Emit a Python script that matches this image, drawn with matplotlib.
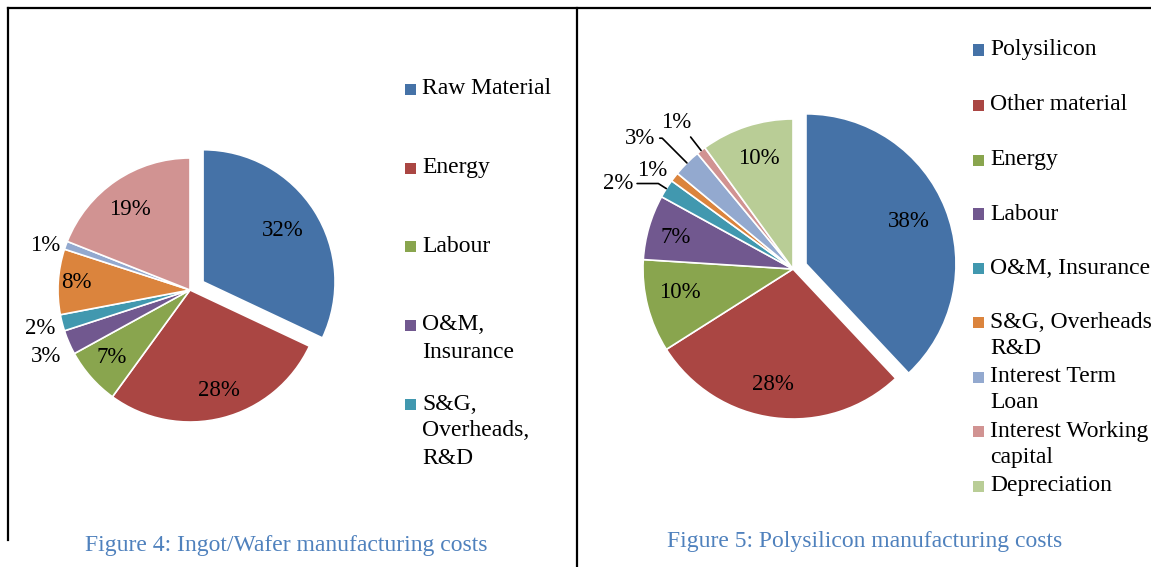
import matplotlib
matplotlib.use("Agg")
import matplotlib.pyplot as plt
import numpy as np
from matplotlib.patches import Rectangle
from matplotlib.lines import Line2D

W, H, DPI = 1151, 567, 100
FONT = "Liberation Serif"

# ---------------- data ----------------
ingot_values = [32, 28, 7, 3, 2, 8, 1, 19]
ingot_legend = ["Raw Material", "Energy", "Labour", "O&M,\nInsurance",
                "S&G,\nOverheads,\nR&D"]
poly_values = [38, 28, 10, 7, 2, 1, 3, 1, 10]
poly_legend = ["Polysilicon", "Other material", "Energy", "Labour",
               "O&M, Insurance", "S&G, Overheads,\nR&D", "Interest Term\nLoan",
               "Interest Working\ncapital", "Depreciation"]
captions = ["Figure 4: Ingot/Wafer manufacturing costs",
            "Figure 5: Polysilicon manufacturing costs"]

# ---------------- styles ----------------
palette = ["#4572A7", "#AA4643", "#89A54E", "#71588F", "#4198AF",
           "#DB843D", "#93A9CF", "#D19392", "#B9CD96"]
ingot_colors = ["#4572A7", "#AA4643", "#89A54E", "#71588F", "#4198AF",
                "#DB843D", "#93A9CF", "#D19392"]
# (radius factor, angle shift, leader line)
ingot_lab = [(0.72, 0.5, False), (0.79, 1.5, False), (0.78, -0.8, False),
             (1.20, 1.6, False), (1.17, 0.0, False), (0.86, 0.0, False),
             (1.15, 2.6, False), (0.76, 2.7, False)]
poly_lab = [(0.74, 0.8, False), (0.78, -2.6, False), (0.77, -2.9, False),
            (0.81, 1.4, False), (1.30, 6.4, True), (1.15, 2.8, False),
            (1.34, 4.4, True), (1.25, 0.9, True), (0.77, -0.8, False)]

PCT_FS = 16.5
LEG_FS = 17
CAP_FS = 17

fig = plt.figure(figsize=(W / DPI, H / DPI), dpi=DPI)
fig.patch.set_facecolor("white")


def px(x, y):
    return x / W, 1 - y / H


def draw_pie(values, colors, labstyle, cx, cy, r, explode0):
    R = 260
    ax = fig.add_axes([(cx - R) / W, 1 - (cy + R) / H, 2 * R / W, 2 * R / H])
    explode = [explode0] + [0] * (len(values) - 1)
    wedges, _ = ax.pie(values, colors=colors, startangle=90, counterclock=False,
                       explode=explode, radius=1,
                       wedgeprops=dict(edgecolor="white", linewidth=1.2))
    s = R / r
    ax.set_xlim(-s, s)
    ax.set_ylim(-s, s)
    ax.set_aspect("equal")
    ax.axis("off")
    for w, v, (rf, sh, lead) in zip(wedges, values, labstyle):
        mid = np.deg2rad((w.theta1 + w.theta2) / 2)
        ang = mid + np.deg2rad(sh)
        c = np.array(w.center)
        tx, ty = c[0] + rf * np.cos(ang), c[1] + rf * np.sin(ang)
        txt = f"{v}%"
        if lead:
            ex, ey = c[0] + np.cos(mid), c[1] + np.sin(mid)
            ax.annotate(txt, xy=(ex, ey), xytext=(tx, ty), ha="center", va="center",
                        fontsize=PCT_FS, family=FONT, color="black",
                        arrowprops=dict(arrowstyle="-", color="black", lw=1.2,
                                        shrinkA=1, shrinkB=0,
                                        connectionstyle=f"angle,angleA=0,angleB={np.rad2deg(mid):.1f},rad=0"))
        else:
            ax.text(tx, ty, txt, ha="center", va="center", fontsize=PCT_FS,
                    family=FONT, color="black")
    return wedges


def draw_legend(labels, colors, sqx, tx, y0s, lsp, sq=11):
    for lab, col, y0 in zip(labels, colors, y0s):
        fig.patches.append(Rectangle(px(sqx, y0 + sq / 2), sq / W, sq / H,
                                     transform=fig.transFigure, facecolor=col,
                                     edgecolor="none"))
        for i, line in enumerate(lab.split("\n")):
            fig.text(*px(tx, y0 + i * lsp), line, ha="left", va="center",
                     fontsize=LEG_FS, family=FONT, color="black")


draw_pie(ingot_values, ingot_colors, ingot_lab, 190, 290, 132, 0.117)
draw_pie(poly_values, palette, poly_lab, 793, 269, 150, 0.093)

draw_legend(ingot_legend, ingot_colors[:5], 405, 422,
            [89, 168, 247, 325, 404], 27)
draw_legend(poly_legend, palette, 973, 990,
            [50, 105, 160, 214, 268, 322, 377, 431, 486], 26)

cap_col = "#4F81BD"
fig.text(*px(286, 545), captions[0], ha="center", va="center", fontsize=CAP_FS,
         family=FONT, color=cap_col)
fig.text(*px(865, 541), captions[1], ha="center", va="center", fontsize=CAP_FS,
         family=FONT, color=cap_col)

# panel borders
for (x0, y0, x1, y1) in [(8, 8, 1151, 8), (8, 8, 8, 540), (577, 8, 577, 567)]:
    fig.lines.append(Line2D([x0 / W, x1 / W], [1 - y0 / H, 1 - y1 / H],
                            transform=fig.transFigure, color="black", lw=1.6))

fig.savefig("out.png", dpi=DPI)
